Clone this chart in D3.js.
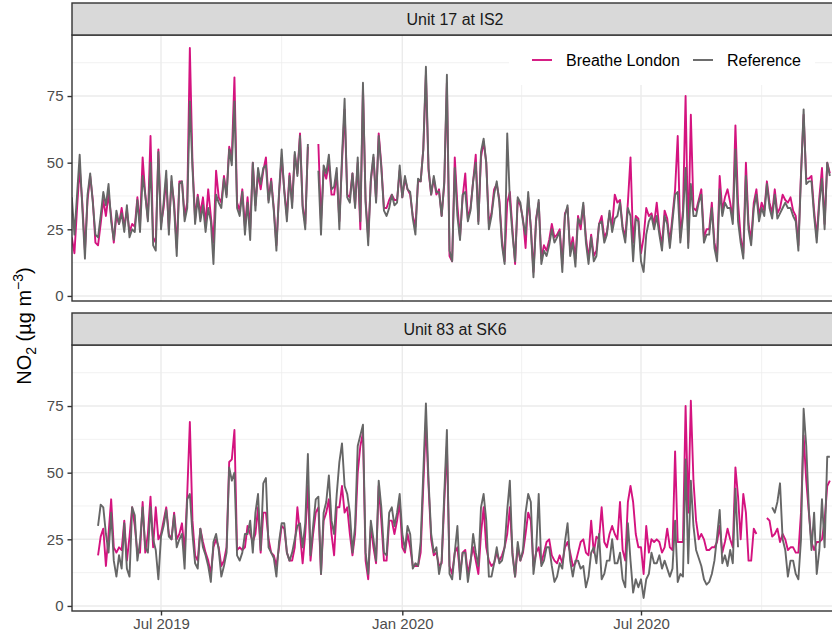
<!DOCTYPE html>
<html>
<head>
<meta charset="utf-8">
<script src="https://cdn.jsdelivr.net/npm/d3@7"></script>
<style>
body { margin: 0; background: #fff; }
text { font-family: "Liberation Sans", Arial, sans-serif; }
</style>
</head>
<body>
<svg id="graph" width="832" height="635"></svg>
<script>
// NO2 daily means, one reading every second day (null = no data)
var stepDays = 2;
var startIS2 = "2019-04-24";
var startSK6 = "2019-05-14";

var is2Breathe = [
	22,16,33,48,35,17,36,45,36,20, 19,27,36,30,38,30,20,30,27,33,
	26,32,24,27,26,37,27,52,38,29, 60,22,20,55,27,33,44,25,43,35,
	18,43,43,30,35,93,50,29,38,31, 37,27,40,30,20,47,37,35,45,38,
	56,52,82,35,32,40,26,37,25,50, 34,46,40,
	47,52,36,44,33,19,38,
	52,40,30,46,35,53,46,61,34,27, 56,null,null,null,57,28,47,44,50,38,
	38,46,28,50,70,38,37,46,34,50, 25,78,36,22,43,52,36,61,49,33,
	33,36,38,36,36,47,37,44,40,38, 30,26,43,43,55,83,47,38,44,38,
	40,30,42,80,15,
	13,52,34,22,37,
	46,29,33,43,53,28,52,58,50,27, 31,40,42,36,21,13,35,39,25,12,
	36,34,29,18,37,26,9,29,35,14, 19,17,21,27,22,23,25,12,31,33,
	17,22,14,30,25,34,22,14,23,15, 17,27,30,22,24,31,26,38,35,36,
	26,22,35,52,20,30,29,16,
	22,33,
	30,31,27,35,25,19,32,29,20,30, 40,60,22,32,75,20,68,33,32,36,
	40,22,25,25,35,20,15,45,32,37, 40,35,29,64,35,22,16,50,27,21,
	35,40,30,35,32,43,35,31,40,31, 33,38,36,35,37,32,30,19,46,68,
	44,44,45,32,22,37,48,27,50,46
];

var is2Reference = [
	37,23,38,53,33,14,38,46,35,23, 22,30,39,34,42,28,21,32,27,31,
	24,34,22,25,24,36,24,45,38,28, 50,19,17,54,25,35,47,23,45,33,
	15,42,43,28,33,73,48,27,37,28, 34,24,33,28,12,38,35,33,44,37,
	55,49,73,33,30,39,23,35,21,50, 32,48,42,
	48,49,35,43,32,17,39,
	55,39,28,45,33,54,45,60,33,25, 57,null,null,null,47,23,49,46,53,40,
	41,48,25,52,74,37,35,46,33,52, 28,80,35,19,44,53,35,60,48,32,
	30,33,38,34,35,49,37,45,40,39, 29,23,44,43,55,86,48,38,45,39,
	39,30,43,83,17,
	13,48,30,21,38,
	39,28,32,43,50,27,54,59,50,25, 30,38,43,35,19,12,61,36,23,13,
	37,35,28,23,39,25,7,28,36,12, 17,15,19,25,20,22,24,9,30,34,
	15,20,11,29,27,35,20,12,22,13, 15,27,28,20,23,32,24,29,30,35,
	25,20,33,30,13,29,28,13,
	9,23,
	28,30,25,30,23,17,30,27,18,28, 38,39,20,30,48,18,42,30,30,35,
	38,20,23,23,33,18,13,40,30,35, 33,33,27,55,28,20,14,45,25,19,
	33,38,28,33,30,42,33,29,38,29, 31,33,35,33,33,30,28,17,45,70,
	42,43,43,30,20,35,44,25,50,45
];

var sk6Breathe = [
	19,26,29,15,27,40,22,20,22,21, 32,17,26,37,30,20,20,39,20,27,
	41,22,37,25,27,32,37,27,25,35, 25,27,31,20,42,69,32,19,17,29,
	24,20,17,12,22,25,22,15,17,22, 54,55,66,21,22,21,22,30,27,24,
	27,37,20,
	35,35,25,20,19,15,22,
	30,29,20,17,17,22,37,27,16,27, 45,17,27,35,37,12,32,35,40,27,
	19,37,37,45,35,37,27,19,27,50, 60,65,17,10,30,22,16,45,32,17,
	17,32,32,27,32,39,22,20,27,22, 15,15,15,20,45,69,45,25,19,20,
	15,16,39,60,15,
	12,20,22,12,20,
	21,12,17,22,17,12,27,37,22,17, 15,16,20,17,19,22,27,37,20,11,
	22,17,20,27,35,32,15,20,22,16, 20,24,25,19,17,16,19,16,22,24,
	20,15,16,20,24,25,20,19,32,20, 26,25,37,24,22,27,30,27,25,39,
	21,17,39,45,39,27,22,
	22,12,30,
	20,25,24,25,24,20,22,29,22,21, 58,24,24,24,75,35,77,47,32,25,
	27,25,21,21,22,22,24,30,20,24, 29,25,22,52,41,25,42,35,17,17,
	29,27,null,null,null,33,32,26,27,29,
	24,27,25,21,22,22,20,20,35,64, 47,35,24,21,24,24,25,32,45,47
];

var sk6Reference = [
	30,38,37,27,20,35,17,11,19,14, 31,14,11,37,34,17,24,37,22,20,
	37,25,21,10,26,30,36,26,25,34, 22,25,27,14,40,42,27,16,14,29,
	22,19,15,9,24,27,21,11,15,20, 52,47,50,19,17,20,27,27,32,20,
	35,42,21,
	46,48,22,20,18,11,24,
	31,31,20,17,20,25,30,31,22,31, 57,19,30,40,41,12,35,39,49,32,
	27,42,54,61,45,42,35,20,30,60, 64,68,20,12,32,25,17,47,37,20,
	19,35,37,30,35,42,27,21,30,27, 14,16,15,24,50,76,47,27,20,22,
	12,17,42,66,12,
	10,20,30,10,20,
	20,9,16,27,20,15,37,42,32,11, 11,16,22,16,17,22,36,47,19,11,
	24,17,21,35,42,39,12,20,42,15, 17,22,22,15,9,11,16,14,24,31,
	17,11,17,17,14,15,7,11,20,22, 16,27,10,12,17,17,25,16,16,20,
	10,7,31,17,5,10,7,
	10,3,10,
	12,20,16,16,19,14,17,14,11,14, 32,9,12,11,55,16,47,30,21,18,
	15,10,8,9,12,17,26,36,16,19, 15,21,16,44,22,null,null,null,null,null,
	null,null,null,null,null,null,null,37,35,39,
	46,25,21,11,17,17,12,10,25,74, 60,36,21,35,12,21,40,22,56,56
];

var panelTitles = ["Unit 17 at IS2", "Unit 83 at SK6"];
var seriesNames = ["Breathe London", "Reference"];
var yTicks = [0, 25, 50, 75];
var yMinor = [12.5, 37.5, 62.5, 87.5];

var seriesColors = ["#d4137f", "#666666"];

var svg = d3.select("#graph");

var left = 72,
	width = 761,
	panelH = 266,
	stripH = 32,
	panelTops = [35, 345];

var parse = d3.utcParse("%Y-%m-%d");

function toPoints(start, values) {
	var t0 = parse(start);
	return values.map(function(v, i) {
		return {date: d3.utcDay.offset(t0, i * stepDays), value: v};
	});
}

var panels = [
	{title: panelTitles[0], series: [toPoints(startIS2, is2Breathe), toPoints(startIS2, is2Reference)]},
	{title: panelTitles[1], series: [toPoints(startSK6, sk6Breathe), toPoints(startSK6, sk6Reference)]}
];

var x = d3.scaleUtc()
	.domain([new Date(Date.UTC(2019, 3, 24, 3, 20)), new Date(Date.UTC(2020, 10, 24, 9, 36))])
	.range([0, width]);

var y = d3.scaleLinear()
	.domain([-1.9, 97.9])
	.range([panelH, 0]);

var xMajor = x.ticks(d3.utcMonth.every(6));
var xMinor = x.ticks(d3.utcMonth.every(3)).filter(function(d) {
	return d.getUTCMonth() % 6 !== 0;
});

var line = d3.line()
	.defined(function(d) { return d.value !== null; })
	.x(function(d) { return x(d.date); })
	.y(function(d) { return y(d.value); });

svg.append("defs").append("clipPath")
	.attr("id", "clip")
	.append("rect")
	.attr("width", width)
	.attr("height", panelH);

panels.forEach(function(p, k) {
	var g = svg.append("g")
		.attr("transform", "translate(" + left + "," + panelTops[k] + ")");

	// grid
	g.selectAll(".ymin").data(yMinor).enter().append("line")
		.attr("x1", 0).attr("x2", width)
		.attr("y1", function(d) { return y(d); }).attr("y2", function(d) { return y(d); })
		.attr("stroke", "#ebebeb").attr("stroke-width", 0.7);
	g.selectAll(".xmin").data(xMinor).enter().append("line")
		.attr("y1", 0).attr("y2", panelH)
		.attr("x1", function(d) { return x(d); }).attr("x2", function(d) { return x(d); })
		.attr("stroke", "#ebebeb").attr("stroke-width", 0.7);
	g.selectAll(".ymaj").data(yTicks).enter().append("line")
		.attr("x1", 0).attr("x2", width)
		.attr("y1", function(d) { return y(d); }).attr("y2", function(d) { return y(d); })
		.attr("stroke", "#ebebeb").attr("stroke-width", 1.4);
	g.selectAll(".xmaj").data(xMajor).enter().append("line")
		.attr("y1", 0).attr("y2", panelH)
		.attr("x1", function(d) { return x(d); }).attr("x2", function(d) { return x(d); })
		.attr("stroke", "#ebebeb").attr("stroke-width", 1.4);

	// series, reference drawn last
	g.append("g").attr("clip-path", "url(#clip)")
		.selectAll("path")
		.data(p.series)
		.enter().append("path")
		.attr("d", line)
		.attr("fill", "none")
		.attr("stroke", function(d, i) { return seriesColors[i]; })
		.attr("stroke-width", 1.9)
		.attr("stroke-linejoin", "round");

	g.append("rect")
		.attr("width", width).attr("height", panelH)
		.attr("fill", "none").attr("stroke", "#333333").attr("stroke-width", 1.4);

	// strip
	g.append("rect")
		.attr("y", -stripH).attr("width", width).attr("height", stripH)
		.attr("fill", "#d9d9d9").attr("stroke", "#333333").attr("stroke-width", 1.4);
	g.append("text")
		.attr("x", 383).attr("y", -stripH / 2)
		.attr("dy", "0.35em")
		.attr("text-anchor", "middle")
		.attr("font-size", "16px")
		.attr("fill", "#1a1a1a")
		.text(p.title);

	var ya = g.append("g")
		.call(d3.axisLeft(y).tickValues(yTicks).tickSize(4.5).tickPadding(4));
	ya.select(".domain").remove();
	ya.selectAll("line").attr("stroke", "#333333").attr("stroke-width", 1.4);
	ya.selectAll("text").attr("font-size", "15px").attr("fill", "#4d4d4d")
		.attr("font-family", "Liberation Sans, Arial, sans-serif");

	if (k === 1) {
		var xa = g.append("g")
			.attr("transform", "translate(0," + panelH + ")")
			.call(d3.axisBottom(x).tickValues(xMajor).tickFormat(d3.utcFormat("%b %Y")).tickSize(4.5).tickPadding(3));
		xa.select(".domain").remove();
		xa.selectAll("line").attr("stroke", "#333333").attr("stroke-width", 1.4);
		xa.selectAll("text").attr("font-size", "15px").attr("fill", "#4d4d4d")
			.attr("font-family", "Liberation Sans, Arial, sans-serif");
	}

	if (k === 0) {
		var lg = g.append("g").attr("transform", "translate(437,1)");
		lg.append("rect").attr("width", 306).attr("height", 49).attr("fill", "#ffffff");
		var item = lg.selectAll(".item").data(seriesNames).enter().append("g")
			.attr("transform", function(d, i) { return "translate(" + (23 + i * 161) + ",24)"; });
		item.append("line")
			.attr("x1", 0).attr("x2", 20)
			.attr("stroke", function(d, i) { return seriesColors[i]; })
			.attr("stroke-width", 1.9);
		item.append("text")
			.attr("x", 34).attr("dy", "0.35em")
			.attr("font-size", "16px").attr("fill", "#000")
			.text(function(d) { return d; });
	}
});

// y axis title
var yt = svg.append("text")
	.attr("transform", "translate(31,326) rotate(-90)")
	.attr("text-anchor", "middle")
	.attr("font-size", "20px")
	.attr("fill", "#000");
yt.append("tspan").text("NO");
yt.append("tspan").attr("dy", 5).attr("font-size", "14px").text("2");
yt.append("tspan").attr("dy", -5).text(" (µg m");
yt.append("tspan").attr("dy", -8).attr("font-size", "14px").text("−3");
yt.append("tspan").attr("dy", 8).text(")");
</script>
</body>
</html>
